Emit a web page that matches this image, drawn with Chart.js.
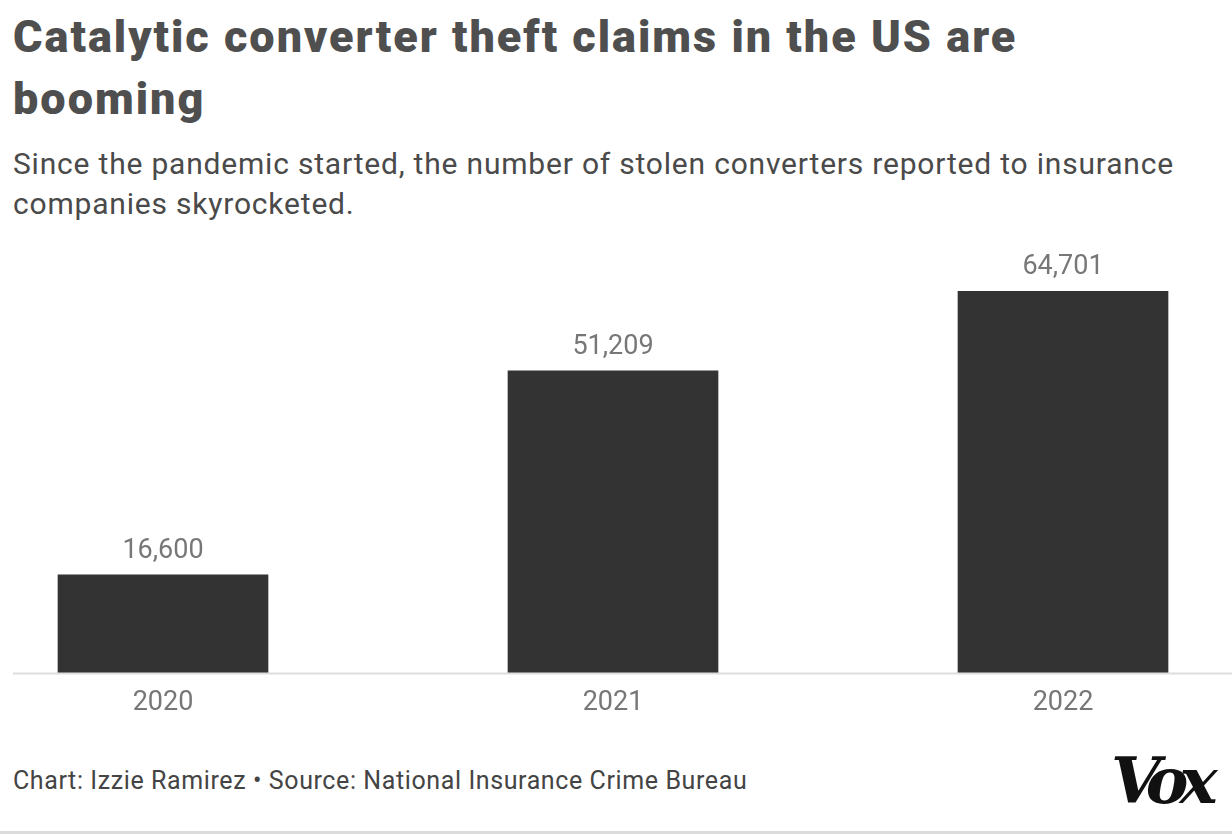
<!DOCTYPE html>
<html>
<head>
<meta charset="utf-8">
<script src="https://cdn.jsdelivr.net/npm/chart.js@4"></script>
<style>
  html, body { margin: 0; padding: 0; background: #fff; }
  body { width: 1232px; height: 834px; position: relative; overflow: hidden; font-family: Roboto, "Noto Sans", sans-serif; }
  h1 { position: absolute; left: 13px; top: 6px; margin: 0; width: 1100px; font-family: Roboto, sans-serif; font-weight: 900; font-size: 45px; line-height: 62px; color: #4f4f4f; letter-spacing: 2px; }
  .sub { position: absolute; left: 13px; top: 144px; margin: 0; width: 1190px; font-size: 30px; line-height: 40px; color: #4a4a4a; font-weight: 400; letter-spacing: 0.8px; }
  .wrap { position: absolute; left: 0; top: 240px; width: 1232px; height: 500px; }
  .foot { position: absolute; left: 13px; top: 766px; font-size: 25px; color: #444; letter-spacing: 0.6px; }
  .vox { position: absolute; left: 1111px; top: 743px; font-family: "DejaVu Serif", serif; font-weight: bold; font-style: italic; font-size: 64px; letter-spacing: -9px; color: #111; }
  .rule { position: absolute; left: 0; top: 831px; width: 1232px; height: 3px; background: #dcdcdc; }
</style>
</head>
<body>
<h1>Catalytic converter theft claims in the US are booming</h1>
<p class="sub">Since the pandemic started, the number of stolen converters reported to insurance companies skyrocketed.</p>
<div class="wrap"><canvas id="theftChart"></canvas></div>
<div class="foot">Chart: Izzie Ramirez • Source: National Insurance Crime Bureau</div>
<div class="vox">Vox</div>
<div class="rule"></div>
<script>
// Data
const years = ['2020', '2021', '2022'];
const claims = [16600, 51209, 64701];
const yMax = 70000;

// value labels above bars + baseline across the width
const barLabels = {
  id: 'barLabels',
  afterDatasetsDraw(chart) {
    const ctx = chart.ctx;
    const meta = chart.getDatasetMeta(0);
    const y0 = chart.scales.y.getPixelForValue(0);
    ctx.save();
    ctx.strokeStyle = '#dddddd';
    ctx.lineWidth = 2;
    ctx.beginPath();
    ctx.moveTo(13, y0 + 1);
    ctx.lineTo(chart.width, y0 + 1);
    ctx.stroke();

    ctx.fillStyle = '#777777';
    ctx.font = '27px Roboto, sans-serif';
    ctx.textAlign = 'center';
    ctx.textBaseline = 'middle';
    meta.data.forEach((bar, i) => {
      ctx.fillText(claims[i].toLocaleString('en-US'), bar.x, bar.y - 24);
    });
    ctx.restore();
  }
};

const ctx = document.getElementById('theftChart').getContext('2d');
new Chart(ctx, {
  type: 'bar',
  data: {
    labels: years,
    datasets: [{
      data: claims,
      backgroundColor: '#333333',
      barThickness: 210,
      clip: false
    }]
  },
  options: {
    responsive: true,
    maintainAspectRatio: false,
    animation: false,
    events: [],
    layout: { padding: { left: 163, right: 169, top: 20, bottom: 7 } },
    plugins: { legend: { display: false }, tooltip: { enabled: false } },
    scales: {
      x: {
        offset: false,
        grid: { display: false, drawTicks: false },
        border: { display: false },
        ticks: { color: '#777777', font: { family: 'Roboto', size: 27 }, padding: 14 }
      },
      y: {
        display: false,
        min: 0,
        max: yMax
      }
    }
  },
  plugins: [barLabels]
});
</script>
</body>
</html>
